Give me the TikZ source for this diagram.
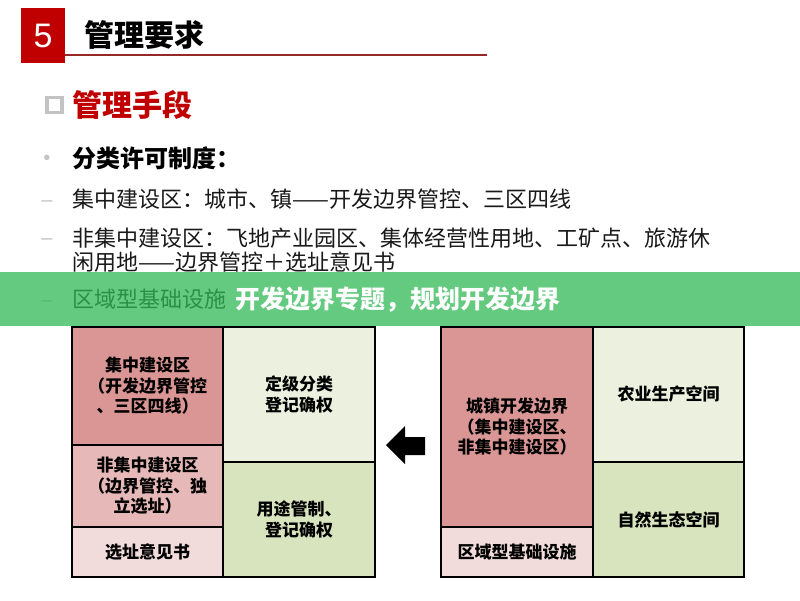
\documentclass[tikz,border=0pt]{standalone}
\usepackage{fontspec}
\newfontfamily\cjk{Noto Sans CJK SC}
\newfontfamily\latin{Liberation Sans}
\usetikzlibrary{positioning}
\definecolor{hdred}{RGB}{192,0,0}
\definecolor{hdline}{RGB}{150,40,40}
\definecolor{markgray}{RGB}{195,195,195}
\definecolor{bodytxt}{RGB}{25,25,25}
\definecolor{bandgreen}{RGB}{47,185,85}
\definecolor{redA}{RGB}{218,150,148}
\definecolor{redB}{RGB}{230,185,184}
\definecolor{redC}{RGB}{242,220,219}
\definecolor{greenA}{RGB}{235,241,222}
\definecolor{greenB}{RGB}{215,228,189}
\tikzset{
  cell/.style={draw=black,line width=1.3pt,inner sep=0pt,outer sep=0pt,
    align=center,font=\cjk\bfseries\fontsize{17}{20.5}\selectfont},
  bodytext/.style={anchor=west,inner sep=0pt,text=bodytxt,
    font=\cjk\fontsize{22}{25}\selectfont},
  itemmark/.style={inner sep=0pt,text=markgray,font=\latin\fontsize{20}{22}\selectfont}
}
\begin{document}
\begin{tikzpicture}[x=1pt,y=-1pt]
\useasboundingbox[fill=white] (0,0) rectangle (800,600);
%% header
\node (num_box) at (43,35.5) [fill=hdred,minimum width=44,minimum height=55,inner sep=0pt,
  text=white,font=\latin\fontsize{34}{36}\selectfont] {5};
\node (title) at (84,35) [anchor=west,inner sep=0pt,font=\cjk\bfseries\fontsize{30}{32}\selectfont] {管理要求};
\coordinate (rule_end) at (487,55);
\draw [hdline,line width=1.2pt] (num_box.east |- rule_end) -- (rule_end);
%% section heading
\node (sq_mark) at (54.5,105) [draw=markgray,line width=3.2pt,minimum size=15,inner sep=0pt] {};
\node (section) at (72,105) [anchor=west,inner sep=0pt,text=hdred,
  font=\cjk\bfseries\fontsize{30}{32}\selectfont] {管理手段};
%% list
\node (mark_0) at (47,160) [itemmark] {•};
\node (item_0) at (72,158) [bodytext,font=\cjk\bfseries\fontsize{24}{26}\selectfont,text=black] {分类许可制度：};
\node (mark_1) at (47,204) [itemmark] {–};
\node (item_1) at (72,199) [bodytext] {集中建设区：城市、镇——开发边界管控、三区四线};
\node (mark_2) at (47,242) [itemmark] {–};
\node (item_2) at (72,238) [bodytext] {非集中建设区：飞地产业园区、集体经营性用地、工矿点、旅游休};
\node (item_2b) at (72,262) [bodytext] {闲用地——边界管控＋选址意见书};
\node (mark_3) at (47,304) [itemmark] {–};
\node (item_3) at (72,299) [bodytext] {区域型基础设施};
%% banner
\fill [bandgreen,opacity=0.75] (0,272) rectangle (800,326);
\node (banner) at (398,300) [inner sep=0pt,text=white,font=\cjk\bfseries\fontsize{25}{27}\selectfont] {开发边界专题，规划开发边界};
%% left grid
\node (cell_l1) at (147.5,386) [cell,fill=redA,minimum width=151,minimum height=118] {集中建设区\\（开发边界管控\\、三区四线）};
\node (cell_l2) at (147.5,486) [cell,fill=redB,minimum width=151,minimum height=82] {非集中建设区\\（边界管控、独\\立选址）};
\node (cell_l3) at (147.5,552) [cell,fill=redC,minimum width=151,minimum height=50] {选址意见书};
\node (cell_l4) at (299,394.5) [cell,fill=greenA,minimum width=152,minimum height=135] {定级分类\\登记确权};
\node (cell_l5) at (299,519.5) [cell,fill=greenB,minimum width=152,minimum height=115] {用途管制、\\登记确权};
%% arrow
\fill (386,445) -- (405,426) -- (405,437) -- (425,437) -- (425,455) -- (405,455) -- (405,464) -- cycle;
%% right grid
\node (cell_r1) at (517,427) [cell,fill=redA,minimum width=152,minimum height=200] {城镇开发边界\\（集中建设区、\\非集中建设区）};
\node (cell_r2) at (517,552) [cell,fill=redC,minimum width=152,minimum height=50] {区域型基础设施};
\node (cell_r3) at (668.5,394.5) [cell,fill=greenA,minimum width=151,minimum height=135] {农业生产空间};
\node (cell_r4) at (668.5,519.5) [cell,fill=greenB,minimum width=151,minimum height=115] {自然生态空间};
%
\end{tikzpicture}
\end{document}
